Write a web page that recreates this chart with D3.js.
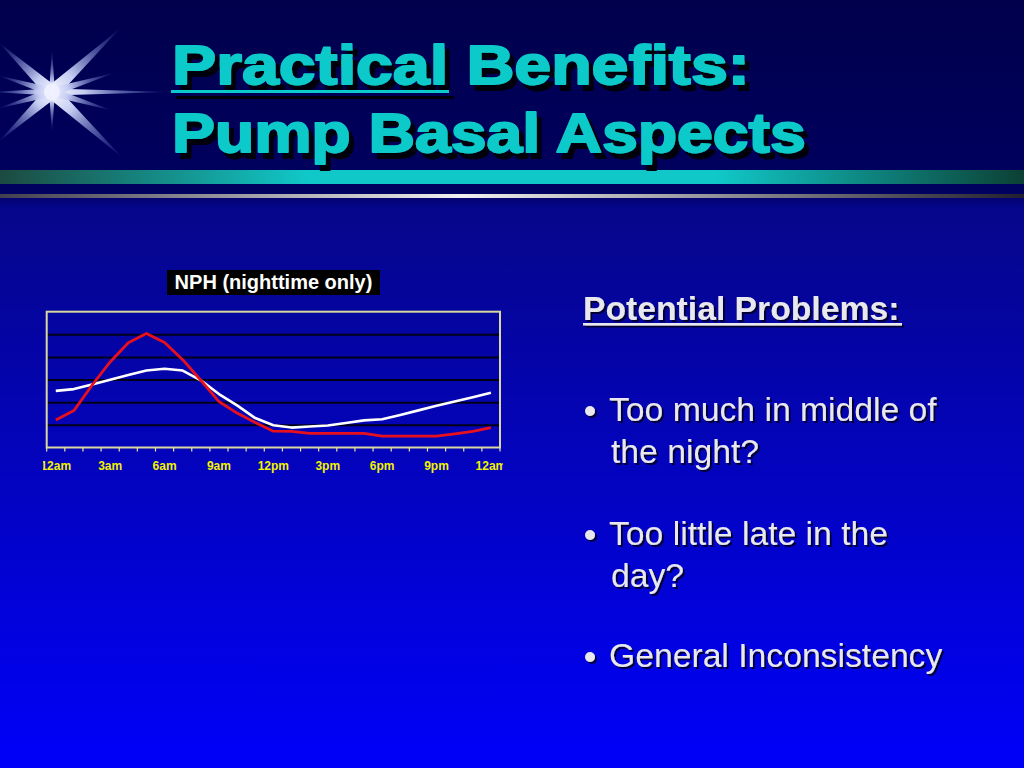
<!DOCTYPE html>
<html>
<head>
<meta charset="utf-8">
<script src="https://cdn.jsdelivr.net/npm/d3@7"></script>
<style>
  html, body { margin: 0; padding: 0; background: #000050; }
  svg { display: block; }
</style>
</head>
<body>
<div id="slide"></div>
<script>
// hourly basal profile, 12am -> 12am
const hours = ["12am","1am","2am","3am","4am","5am","6am","7am","8am","9am","10am","11am",
  "12pm","1pm","2pm","3pm","4pm","5pm","6pm","7pm","8pm","9pm","10pm","11pm","12am "]
const tickLabels = ["12am","3am","6am","9am","12pm","3pm","6pm","9pm","12am "]
const nphValues = [1.22, 1.63, 2.75, 3.78, 4.63, 5.04, 4.64, 3.88, 2.97, 2.03, 1.52, 1.1,
  0.72, 0.71, 0.62, 0.62, 0.62, 0.62, 0.5, 0.5, 0.5, 0.5, 0.6, 0.71, 0.88]
const needValues = [2.5, 2.58, 2.78, 2.99, 3.2, 3.4, 3.48, 3.4, 2.97, 2.36, 1.86, 1.3,
  0.98, 0.88, 0.93, 0.97, 1.08, 1.2, 1.25, 1.44, 1.64, 1.84, 2.03, 2.22, 2.42]
const gridValues = [1, 2, 3, 4, 5]

const titleLines = ["Practical Benefits:", "Pump Basal Aspects"]
const titleWidths = [578, 634]
const chartTitle = "NPH (nighttime only)"
const heading = "Potential Problems:"
const bullets = [
  ["Too much in middle of", "the night?"],
  ["Too little late in the", "day?"],
  ["General Inconsistency"]
]

const W = 1024, H = 768
const font = "'Liberation Sans', Arial, sans-serif"
const plot = {left: 46.7, right: 500, top: 311.7, bottom: 447.5}

const svg = d3.select("#slide").append("svg")
  .attr("width", W).attr("height", H)
  .style("font-family", font)

const defs = svg.append("defs")

// background
const bg = defs.append("linearGradient").attr("id", "bg")
  .attr("x1", 0).attr("y1", 0).attr("x2", 0).attr("y2", 1)
bg.append("stop").attr("offset", "0").attr("stop-color", "#00004c")
bg.append("stop").attr("offset", "0.25").attr("stop-color", "#000060")
bg.append("stop").attr("offset", "0.27").attr("stop-color", "#06068a")
bg.append("stop").attr("offset", "1").attr("stop-color", "#0000fa")

svg.append("rect").attr("width", W).attr("height", H).attr("fill", "url(#bg)")

// shadows
defs.append("filter").attr("id", "titleShadow")
  .attr("x", "-5%").attr("y", "-10%").attr("width", "115%").attr("height", "130%")
  .append("feDropShadow").attr("dx", 5).attr("dy", 6).attr("stdDeviation", 0.6)
  .attr("flood-color", "#000010").attr("flood-opacity", 1)
defs.append("filter").attr("id", "textShadow")
  .attr("x", "-5%").attr("y", "-10%").attr("width", "115%").attr("height", "130%")
  .append("feDropShadow").attr("dx", 2).attr("dy", 2).attr("stdDeviation", 0.5)
  .attr("flood-color", "#000028").attr("flood-opacity", 0.9)

// teal band + gray rule
const teal = defs.append("linearGradient").attr("id", "teal")
teal.append("stop").attr("offset", "0").attr("stop-color", "#1c4a40")
teal.append("stop").attr("offset", "0.3").attr("stop-color", "#10c8c8")
teal.append("stop").attr("offset", "0.7").attr("stop-color", "#10c8c8")
teal.append("stop").attr("offset", "1").attr("stop-color", "#0c4034")
svg.append("rect").attr("x", 0).attr("y", 170).attr("width", W).attr("height", 14)
  .attr("fill", "url(#teal)")

const rule = defs.append("linearGradient").attr("id", "rule")
rule.append("stop").attr("offset", "0").attr("stop-color", "#404050")
rule.append("stop").attr("offset", "0.45").attr("stop-color", "#f0f0f0")
rule.append("stop").attr("offset", "1").attr("stop-color", "#202030")
svg.append("rect").attr("x", 0).attr("y", 194).attr("width", W).attr("height", 4)
  .attr("fill", "url(#rule)")

// star burst
const ray = defs.append("linearGradient").attr("id", "ray")
ray.append("stop").attr("offset", "0").attr("stop-color", "#ffffff")
ray.append("stop").attr("offset", "0.3").attr("stop-color", "#c4ccf2")
ray.append("stop").attr("offset", "1").attr("stop-color", "#4050b0").attr("stop-opacity", 0.15)

const rays = [
  [0, 118, 3.5], [180, 60, 3.5], [-90, 42, 3], [90, 40, 3],
  [-43, 93, 7], [43, 95, 7], [-137, 72, 7], [137, 72, 7],
  [-17, 65, 4.5], [17, 62, 4.5], [-163, 55, 4.5], [163, 55, 4.5]
]
const starG = svg.append("g").attr("transform", "translate(52,92)")
starG.selectAll("path").data(rays).join("path")
  .attr("transform", d => `rotate(${d[0]})`)
  .attr("d", d => `M0,${-d[2]}L${d[1]},0L0,${d[2]}L${-4},0Z`)
  .attr("fill", "url(#ray)")
starG.append("circle").attr("r", 8).attr("fill", "#eef0ff").attr("opacity", 0.95)

// title: wide heavy face, so stretch each line horizontally to its width
const title = svg.append("g").attr("filter", "url(#titleShadow)")
  .style("font-weight", "bold").style("font-size", "55px")
titleLines.forEach((t, i) => {
  const g = title.append("g")
  const node = g.append("text").attr("fill", "#10caca")
    .attr("stroke", "#10caca").attr("stroke-width", 1.8).attr("stroke-linejoin", "round")
    .text(t).node()
  const sx = titleWidths[i] / node.getComputedTextLength()
  g.attr("transform", `translate(172,${84 + i * 68}) scale(${sx},1)`)
})
title.append("rect").attr("x", 171).attr("y", 90).attr("width", 278).attr("height", 3).attr("fill", "#10caca")

// chart
const x = d3.scaleBand().domain(hours).range([plot.left, plot.right])
const y = d3.scaleLinear().domain([0, 6]).range([plot.bottom, plot.top])
const cx = d => x(d) + x.bandwidth() / 2

const chart = svg.append("g")

chart.append("g")
  .attr("transform", `translate(${plot.left},0)`)
  .call(d3.axisLeft(y).tickValues(gridValues).tickSize(-(plot.right - plot.left)).tickFormat(""))
  .call(g => g.select(".domain").remove())
  .call(g => g.selectAll("line").attr("stroke", "#000018").attr("stroke-width", 2))

chart.append("rect")
  .attr("x", plot.left).attr("y", plot.top)
  .attr("width", plot.right - plot.left).attr("height", plot.bottom - plot.top)
  .attr("fill", "none").attr("stroke", "#d8d8a0").attr("stroke-width", 2)

// boundary ticks under the axis
const edges = hours.map(h => x(h)).concat([plot.right])
chart.selectAll("line.tk").data(edges).join("line").attr("class", "tk")
  .attr("x1", d => d).attr("x2", d => d)
  .attr("y1", plot.bottom).attr("y2", plot.bottom + 4)
  .attr("stroke", "#e8e8a0").attr("stroke-width", 1.2)

const line = d3.line().x((d, i) => cx(hours[i])).y(d => y(d))

chart.append("path").datum(needValues)
  .attr("d", line).attr("fill", "none")
  .attr("stroke", "#ffffff").attr("stroke-width", 2.6).attr("stroke-linejoin", "round")

chart.append("path").datum(nphValues)
  .attr("d", line).attr("fill", "none")
  .attr("stroke", "#e8101c").attr("stroke-width", 2.8).attr("stroke-linejoin", "round")

// x labels, clipped at the chart frame like the original
defs.append("clipPath").attr("id", "lblclip")
  .append("rect").attr("x", 43).attr("y", 450).attr("width", 460).attr("height", 30)

chart.append("g").attr("clip-path", "url(#lblclip)")
  .append("g")
  .attr("transform", `translate(0,${plot.bottom})`)
  .call(d3.axisBottom(x).tickValues(tickLabels).tickSize(0).tickPadding(14))
  .call(g => g.select(".domain").remove())
  .call(g => g.selectAll("text")
    .attr("fill", "#f2f200").style("font-size", "12px").style("font-weight", "bold")
    .style("font-family", font).text(d => d.trim()))

// chart title
const ct = svg.append("g")
ct.append("rect").attr("x", 167).attr("y", 270).attr("width", 213).attr("height", 25).attr("fill", "#000")
ct.append("text").attr("x", 273.5).attr("y", 289).attr("text-anchor", "middle")
  .attr("fill", "#fff").style("font-weight", "bold").style("font-size", "20px")
  .text(chartTitle)

// right text block
const txt = svg.append("g").attr("filter", "url(#textShadow)")
  .style("font-size", "33.7px").attr("fill", "#e8e8ee")
txt.append("text").attr("x", 583).attr("y", 320).style("font-weight", "bold").text(heading)
txt.append("rect").attr("x", 583).attr("y", 323).attr("width", 319).attr("height", 2.5)

const bulletBase = [421, 545, 667]
bullets.forEach((lines, i) => {
  const by = bulletBase[i]
  txt.append("circle").attr("cx", 590).attr("cy", by - 10).attr("r", 5)
  lines.forEach((s, j) => {
    txt.append("text").attr("x", j ? 611 : 609).attr("y", by + j * 42).text(s)
  })
})
</script>
</body>
</html>
